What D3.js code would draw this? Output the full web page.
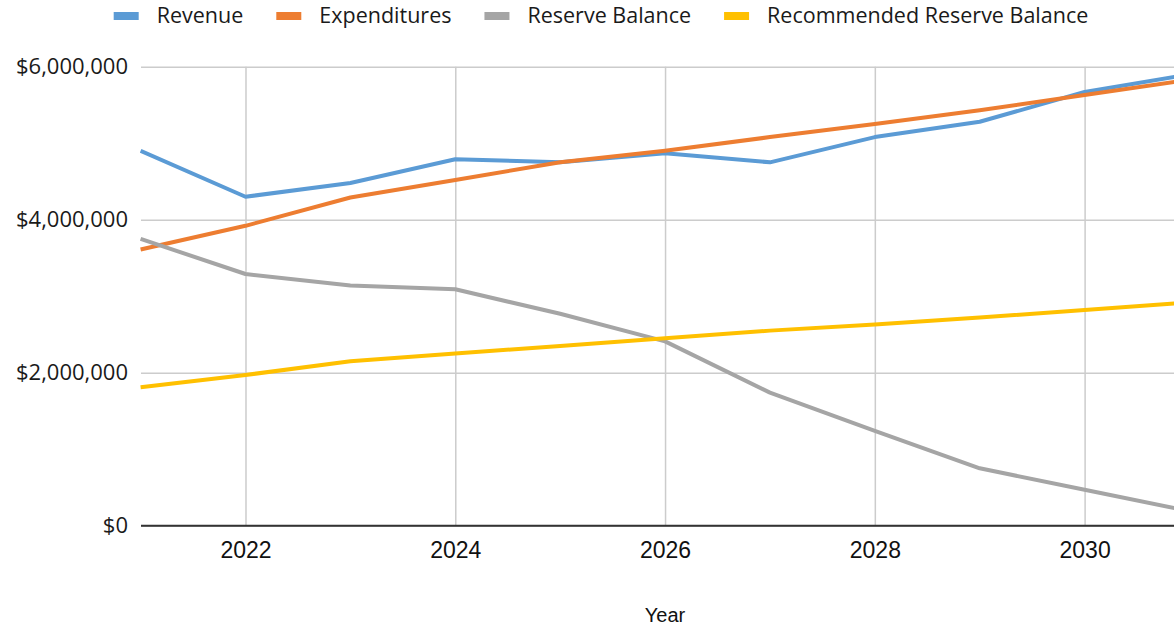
<!DOCTYPE html>
<html>
<head>
<meta charset="utf-8">
<script src="https://cdn.jsdelivr.net/npm/d3@7"></script>
<style>
	body { margin: 0; background: #fff; }
	svg { display: block; }
</style>
</head>
<body>
<svg id="chart" width="1174" height="625"></svg>
<script>
// chart data
const years = [2021, 2022, 2023, 2024, 2025, 2026, 2027, 2028, 2029, 2030, 2031];
const revenue = [4900000, 4300000, 4480000, 4790000, 4750000, 4870000, 4750000, 5080000, 5280000, 5670000, 5900000];
const expenditures = [3610000, 3920000, 4290000, 4520000, 4750000, 4900000, 5080000, 5250000, 5430000, 5630000, 5830000];
const reserveBalance = [3750000, 3290000, 3140000, 3090000, 2770000, 2410000, 1740000, 1240000, 750000, 470000, 190000];
const recommendedReserve = [1810000, 1970000, 2150000, 2250000, 2350000, 2450000, 2550000, 2630000, 2720000, 2820000, 2920000];
const seriesNames = ["Revenue", "Expenditures", "Reserve Balance", "Recommended Reserve Balance"];
const seriesColors = ["#5b9bd5", "#ed7d31", "#a5a5a5", "#ffc000"];
const yTicks = [0, 2000000, 4000000, 6000000];
const xTicks = [2022, 2024, 2026, 2028, 2030];

function drawChart() {
	let svg = d3.select("#chart");
	let width = 1174;

	let x = d3.scaleLinear()
		.domain([2021, 2031])
		.range([140.6, 1189.5]);

	let y = d3.scaleLinear()
		.domain([0, 6000000])
		.range([525.7, 66.7]);

	svg.append("clipPath")
		.attr("id", "plotClip")
		.append("rect")
		.attr("x", 140)
		.attr("y", 0)
		.attr("width", width - 140)
		.attr("height", 625);

	// horizontal gridlines + y labels
	let yAxis = d3.axisLeft(y)
		.tickValues(yTicks)
		.tickSize(-(width - 141))
		.tickPadding(13)
		.tickFormat(d => "$" + d3.format(",")(d));

	let yG = svg.append("g")
		.attr("transform", "translate(141,0)")
		.call(yAxis);
	yG.select(".domain").remove();
	yG.selectAll(".tick line")
		.attr("stroke", "#cccccc")
		.attr("stroke-width", 1.5);
	yG.selectAll(".tick text")
		.attr("fill", "#1a1a1a")
		.style("font-family", "'Open Sans', sans-serif")
		.style("font-size", "22px");

	// vertical gridlines + x labels
	let xAxis = d3.axisBottom(x)
		.tickValues(xTicks)
		.tickSize(-(525.7 - 66.7))
		.tickPadding(16)
		.tickFormat(d3.format("d"));

	let xG = svg.append("g")
		.attr("transform", "translate(0,525.7)")
		.call(xAxis);
	xG.select(".domain").remove();
	xG.selectAll(".tick line")
		.attr("stroke", "#cccccc")
		.attr("stroke-width", 1.5);
	xG.selectAll(".tick text")
		.attr("fill", "#111")
		.style("font-family", "'Liberation Sans', Arial, sans-serif")
		.style("font-size", "23px");

	// baseline
	svg.append("line")
		.attr("x1", 141)
		.attr("x2", width)
		.attr("y1", y(0))
		.attr("y2", y(0))
		.attr("stroke", "#333")
		.attr("stroke-width", 2);

	// lines
	let allSeries = [revenue, expenditures, reserveBalance, recommendedReserve];
	let line = d3.line()
		.x((d, i) => x(years[i]))
		.y(d => y(d));

	let lineG = svg.append("g").attr("clip-path", "url(#plotClip)");
	lineG.selectAll("path")
		.data(allSeries)
		.enter()
		.append("path")
		.attr("d", d => line(d))
		.attr("fill", "none")
		.attr("stroke", (d, i) => seriesColors[i])
		.attr("stroke-width", 4)
		.attr("stroke-linejoin", "round");

	// x axis title
	svg.append("text")
		.attr("x", 665)
		.attr("y", 622)
		.attr("text-anchor", "middle")
		.attr("fill", "#111")
		.style("font-family", "'Liberation Sans', Arial, sans-serif")
		.style("font-size", "20px")
		.text("Year");

	// legend laid out left to right, centred
	let legend = svg.append("g");
	let items = legend.selectAll("g")
		.data(seriesNames)
		.enter()
		.append("g");
	items.append("rect")
		.attr("width", 25)
		.attr("height", 8)
		.attr("y", 12)
		.attr("fill", (d, i) => seriesColors[i]);
	items.append("text")
		.attr("x", 43)
		.attr("y", 23)
		.attr("fill", "#1a1a1a")
		.style("font-family", "'Open Sans', sans-serif")
		.style("font-size", "21.5px")
		.text(d => d);

	let pos = 0;
	let offsets = [];
	items.each(function() {
		offsets.push(pos);
		let w = d3.select(this).select("text").node().getComputedTextLength();
		pos += 43 + w + 33;
	});
	let total = pos - 33;
	let start = 601 - total / 2;
	items.attr("transform", (d, i) => "translate(" + (start + offsets[i]) + ",0)");
}

drawChart();
</script>
</body>
</html>
